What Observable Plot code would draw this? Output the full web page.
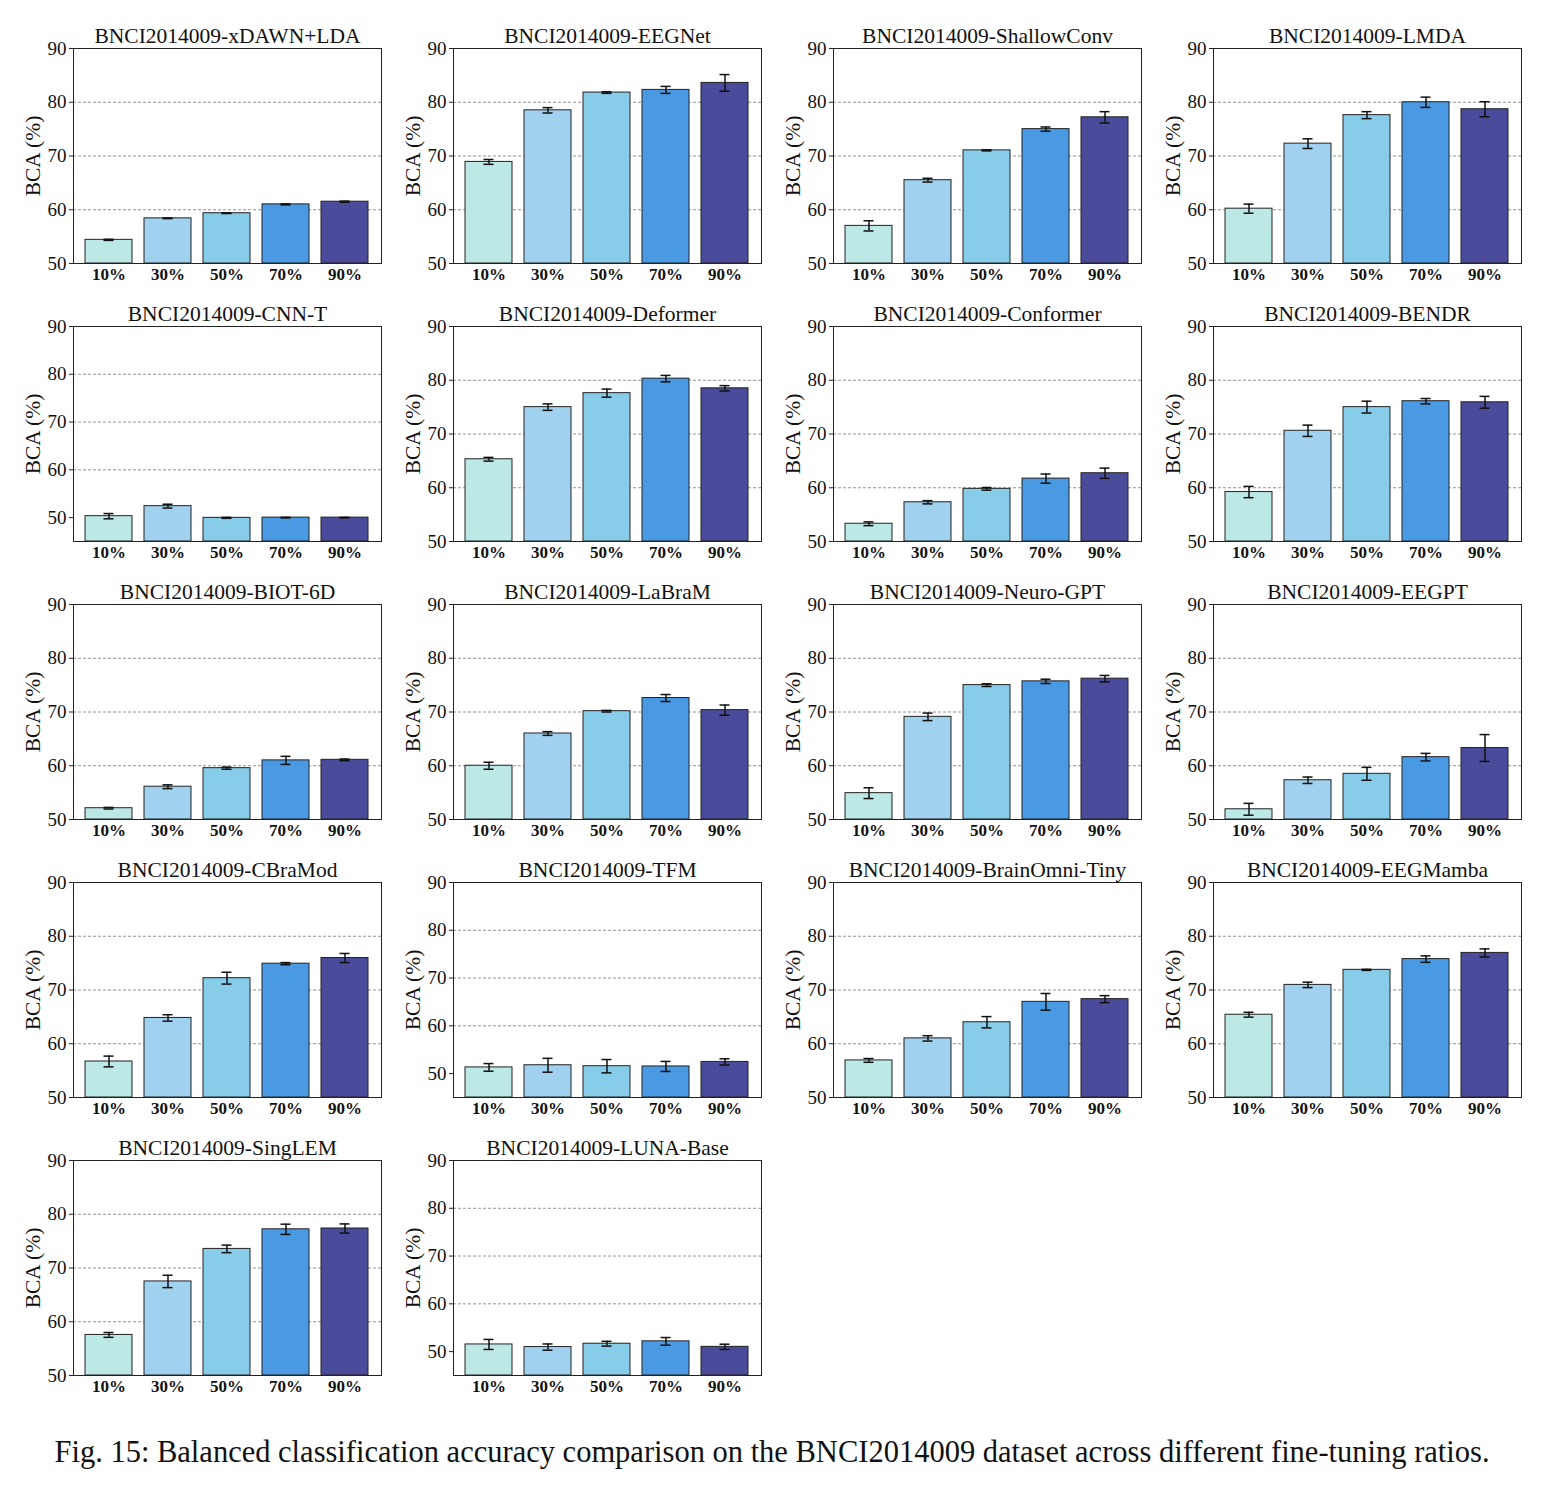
<!DOCTYPE html>
<html>
<head>
<meta charset="utf-8">
<script src="https://cdn.jsdelivr.net/npm/d3@7"></script>
<script src="https://cdn.jsdelivr.net/npm/@observablehq/plot@0.6"></script>
<style>
  body { margin: 0; background: white; }
  #fig { position: relative; width: 1544px; height: 1485px; background: white; font-family: "Liberation Serif", "Times New Roman", serif; }
  .panel { position: absolute; }
  .panel svg { overflow: visible; background: transparent; }
  #caption { position: absolute; left: 0; width: 1544px; top: 1433px; text-align: center; font-size: 30.5px; line-height: 38px; color: #111; font-family: "Liberation Serif", "Times New Roman", serif; white-space: nowrap; }
</style>
</head>
<body>
<div id="fig"></div>
<script>
const ratios = ["10%", "30%", "50%", "70%", "90%"];
const barColors = ["#bce8e6", "#a0d1ee", "#87cdea", "#4a9ae3", "#4b4b9c"];

const models = [
  "xDAWN+LDA", "EEGNet", "ShallowConv", "LMDA",
  "CNN-T", "Deformer", "Conformer", "BENDR",
  "BIOT-6D", "LaBraM", "Neuro-GPT", "EEGPT",
  "CBraMod", "TFM", "BrainOmni-Tiny", "EEGMamba",
  "SingLEM", "LUNA-Base"
];

const bca = [
  [54.4, 58.4, 59.35, 61.0, 61.5],
  [68.9, 78.5, 81.8, 82.3, 83.6],
  [57.0, 65.5, 71.05, 75.0, 77.2],
  [60.2, 72.3, 77.6, 80.0, 78.7],
  [50.3, 52.4, 49.95, 50.0, 50.0],
  [65.3, 75.0, 77.6, 80.3, 78.5],
  [53.3, 57.3, 59.8, 61.7, 62.7],
  [59.2, 70.6, 75.0, 76.1, 75.9],
  [52.1, 56.1, 59.55, 61.0, 61.1],
  [60.0, 66.0, 70.15, 72.6, 70.35],
  [54.9, 69.1, 75.0, 75.7, 76.2],
  [51.9, 57.3, 58.5, 61.6, 63.3],
  [56.7, 64.8, 72.2, 74.9, 75.95],
  [51.3, 51.75, 51.55, 51.5, 52.45],
  [56.9, 61.0, 64.0, 67.8, 68.3],
  [65.4, 70.95, 73.75, 75.75, 76.9],
  [57.55, 67.5, 73.55, 77.2, 77.35],
  [51.5, 50.95, 51.65, 52.15, 51.0]
];

const bcaErr = [
  [0.1, 0.05, 0.05, 0.1, 0.1],
  [0.45, 0.5, 0.15, 0.65, 1.55],
  [0.95, 0.35, 0.1, 0.4, 1.05],
  [0.85, 0.9, 0.65, 0.95, 1.4],
  [0.55, 0.4, 0.1, 0.05, 0.05],
  [0.35, 0.6, 0.75, 0.6, 0.5],
  [0.35, 0.3, 0.25, 0.85, 0.95],
  [1.05, 1.05, 1.1, 0.5, 1.1],
  [0.15, 0.35, 0.2, 0.75, 0.15],
  [0.65, 0.35, 0.15, 0.65, 0.95],
  [1.0, 0.7, 0.25, 0.4, 0.6],
  [1.1, 0.6, 1.2, 0.7, 2.5],
  [1.0, 0.6, 1.1, 0.2, 0.85],
  [0.8, 1.45, 1.4, 1.05, 0.65],
  [0.35, 0.5, 1.05, 1.55, 0.65],
  [0.45, 0.5, 0.1, 0.6, 0.75],
  [0.45, 1.15, 0.7, 0.95, 0.85],
  [1.05, 0.65, 0.5, 0.8, 0.55]
];

const yLow = [50, 50, 50, 50, 45, 50, 50, 50, 50, 50, 50, 50, 50, 45, 50, 50, 50, 45];
const yTicks = [50, 60, 70, 80, 90];
const gridTicks = [60, 70, 80];
const dataset = "BNCI2014009";
const yLabel = "BCA (%)";
const caption = "Fig. 15: Balanced classification accuracy comparison on the BNCI2014009 dataset across different fine-tuning ratios.";

const serif = '"Liberation Serif", "Times New Roman", serif';
const fig = document.getElementById("fig");

models.forEach((m, i) => {
  const lo = yLow[i];
  const rows = ratios.map((r, j) => ({
    ratio: r,
    value: bca[i][j],
    lo: bca[i][j] - bcaErr[i][j],
    hi: bca[i][j] + bcaErr[i][j],
    base: lo
  }));
  const col = i % 4, row = Math.floor(i / 4);
  const chart = Plot.plot({
    width: 382,
    height: 300,
    marginLeft: 73,
    marginRight: 1,
    marginTop: 48,
    marginBottom: 37,
    style: { fontFamily: serif, background: "transparent", overflow: "visible", color: "#111" },
    x: { domain: ratios, padding: 0.2, label: null, axis: null },
    y: { domain: [lo, 90], label: null, axis: null },
    color: { domain: ratios, range: barColors },
    marks: [
      Plot.gridY(gridTicks, { stroke: "#777", strokeOpacity: 1, strokeWidth: 0.8, strokeDasharray: "3,2" }),
      Plot.barY(rows, { x: "ratio", y1: "base", y2: "value", fill: "ratio", stroke: "#222", strokeWidth: 1 }),
      Plot.ruleX(rows, { x: "ratio", y1: "lo", y2: "hi", stroke: "#111", strokeWidth: 1.5 }),
      Plot.tickY(rows, { x: "ratio", y: "lo", stroke: "#111", strokeWidth: 1.5, insetLeft: 18.5, insetRight: 18.5 }),
      Plot.tickY(rows, { x: "ratio", y: "hi", stroke: "#111", strokeWidth: 1.5, insetLeft: 18.5, insetRight: 18.5 }),
      Plot.frame({ stroke: "#222", strokeWidth: 1 }),
      Plot.axisY(yTicks, { tickSize: 4, tickPadding: 3, fontSize: 19, label: null, stroke: "#222" }),
      Plot.axisX({ tickSize: 0, tickPadding: 4, fontSize: 17, fontWeight: "bold", label: null }),
      Plot.text([yLabel], { frameAnchor: "left", textAnchor: "middle", lineAnchor: "middle", dx: -40, rotate: -90, fontSize: 21.5, fill: "#111" }),
      Plot.text([`${dataset}-${m}`], { frameAnchor: "top", textAnchor: "middle", lineAnchor: "middle", dy: -12, fontSize: 21.5, fill: "#111" })
    ]
  });
  const div = document.createElement("div");
  div.className = "panel";
  div.style.left = (col * 380) + "px";
  div.style.top = (row * 278) + "px";
  div.appendChild(chart);
  fig.appendChild(div);
});

const cap = document.createElement("div");
cap.id = "caption";
cap.textContent = caption;
fig.appendChild(cap);
</script>
</body>
</html>
